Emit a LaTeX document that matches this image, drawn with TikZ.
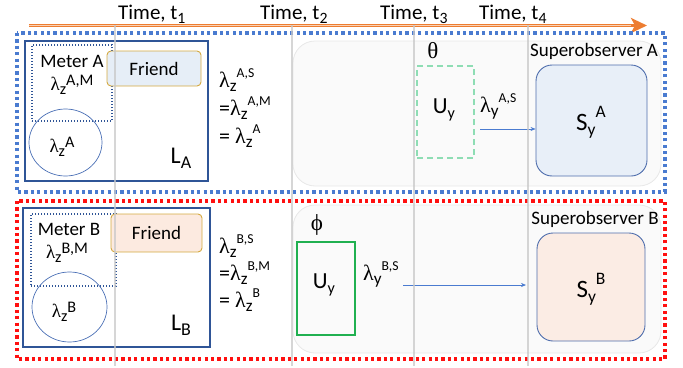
\documentclass[tikz,border=0pt]{standalone}
\usepackage{fontspec}
\usepackage{graphicx}
\setmainfont{Carlito}
\newfontfamily\grk{Liberation Serif}
\usetikzlibrary{arrows.meta,shapes.geometric}
\definecolor{dotblue}{HTML}{4A7BD0}
\definecolor{dotred}{HTML}{FF1010}
\definecolor{lbox}{HTML}{2F5597}
\definecolor{circ}{HTML}{4A6FB5}
\definecolor{frborder}{HTML}{D4A940}
\definecolor{frA}{HTML}{E6EEF7}
\definecolor{frB}{HTML}{FCEAE0}
\definecolor{sA}{HTML}{E8EFF8}
\definecolor{sB}{HTML}{FBECE4}
\definecolor{sborder}{HTML}{4F6EAD}
\definecolor{gdash}{HTML}{8EDDB4}
\definecolor{gsolid}{HTML}{20B050}
\definecolor{tarrow}{HTML}{ED7D31}
\definecolor{vgray}{HTML}{C8C8C8}
\newcommand\lamM[2]{{\grk λ}\raisebox{-0.25em}{\scalebox{0.85}{#1}}\raisebox{0.22em}{\scalebox{0.85}{#2}}}
\newcommand\lamE[2]{{\grk λ}\raisebox{-0.22em}{\scalebox{0.78}{#1}}\raisebox{0.42em}{\scalebox{0.62}{#2}}}
\newcommand\bigsub[3]{#1\raisebox{-0.22em}{\scalebox{0.7}{#2}}\raisebox{0.5em}{\scalebox{0.7}{#3}}}
\begin{document}
\begin{tikzpicture}[x=1pt,y=-1pt,
  txt/.style={inner sep=0pt,font=\fontsize{19}{22}\selectfont},
  timelbl/.style={inner sep=0pt,anchor=base west,font=\fontsize{21}{24}\selectfont},
  eqlbl/.style={inner sep=0pt,anchor=base west,font=\fontsize{22}{26}\selectfont},
  dotbox/.style={line width=3.2pt,dash pattern=on 3.2pt off 3.2pt},
  lboxstyle/.style={draw=lbox,line width=2.6pt},
  meterbox/.style={draw=lbox,line width=1.3pt,dash pattern=on 1.4pt off 1.6pt},
  circstyle/.style={draw=circ,line width=0.7pt},
  friendbox/.style={draw=frborder,line width=0.9pt,rounded corners=4pt},
  bgbox/.style={draw=black!9,fill=black!2,line width=0.8pt,rounded corners=22pt},
  sbox/.style={draw=sborder,line width=0.9pt,rounded corners=16pt},
  conn/.style={draw=dotblue,line width=0.6pt,-{Stealth[length=5pt,width=4pt]}},
  vline/.style={draw=vgray,line width=1.4pt,opacity=0.75}
]
\useasboundingbox (0,0) rectangle (683,367);

% background rounded panels
\path[bgbox] (293,41) rectangle (661,186);
\path[bgbox] (293,205) rectangle (661,353);

% time labels
\node[timelbl] (T1) at (118,19) {Time, t\raisebox{-0.2em}{\scalebox{0.75}{1}}};
\node[timelbl] (T2) at (260,19) {Time, t\raisebox{-0.2em}{\scalebox{0.75}{2}}};
\node[timelbl] (T3) at (380,19) {Time, t\raisebox{-0.2em}{\scalebox{0.75}{3}}};
\node[timelbl] (T4) at (479,19) {Time, t\raisebox{-0.2em}{\scalebox{0.75}{4}}};

% time arrow
\coordinate (ta0) at (29,25.5);
\coordinate (ta1) at (647,25.5);
\draw[tarrow,line width=3.4pt,-{Stealth[length=16pt,width=15pt,inset=4pt]}] (ta0) -- (ta1);
\draw[tarrow!35,line width=1.1pt,shorten >=16pt] (ta0) -- (ta1);

% ---------- A row ----------
\node[lboxstyle,minimum width=183pt,minimum height=140pt,inner sep=0pt] (LA) at (116.5,111) {};
\node[meterbox,minimum width=80pt,minimum height=76pt,inner sep=0pt] (MA) at (72,83) {};
\node[friendbox,fill=frA,minimum width=94pt,minimum height=35pt,inner sep=0pt] (FA) at (154,68.5) {};
\node[txt] (FAt) at (FA.center) {Friend};
\node[circstyle,ellipse,minimum width=73pt,minimum height=67pt,inner sep=0pt] (CA) at (65.5,142.5) {};
\node[txt,anchor=base] (MAt) at (72,67) {Meter A};
\node[txt,anchor=base] (MAl) at (72,90) {\lamM{z}{A,M}};
\node[txt,anchor=base] (CAl) at (62,152) {\lamM{z}{A}};
\node[inner sep=0pt,anchor=base,font=\fontsize{24}{28}\selectfont] (LAt) at (181,163) {L\raisebox{-0.22em}{\scalebox{0.75}{A}}};

\node[eqlbl] (EA1) at (219,87) {\lamE{z}{A,S}};
\node[eqlbl] (EA2) at (219,115) {=\lamE{z}{A,M}};
\node[eqlbl] (EA3) at (219,143) {= \lamE{z}{A}};

\node[inner sep=0pt,font=\fontsize{23}{26}\selectfont\grk] (thA) at (433,51) {θ};
\node[draw=gdash,line width=2pt,dash pattern=on 6pt off 4pt,minimum width=57pt,minimum height=92pt,inner sep=0pt] (UA) at (445.5,112) {};
\node[inner sep=0pt,anchor=base,font=\fontsize{23}{26}\selectfont] (UAt) at (444,113) {U\raisebox{-0.25em}{\scalebox{0.7}{y}}};
\node[eqlbl] (LyA) at (480,112) {\lamE{y}{A,S}};
\node[sbox,fill=sA,minimum width=111pt,minimum height=111pt,inner sep=0pt] (SA) at (591.5,120.5) {};
\node[inner sep=0pt,anchor=base,font=\fontsize{25}{28}\selectfont] (SAt) at (591,130) {\bigsub{S}{y}{A}};
\node[txt,anchor=base] (SOA) at (594,56) {Superobserver A};
\coordinate (arA) at (480,129);
\draw[conn] (arA) -- (arA -| SA.west);

% ---------- B row ----------
\node[lboxstyle,minimum width=187pt,minimum height=139pt,inner sep=0pt] (LB) at (116.5,277.5) {};
\node[meterbox,minimum width=85pt,minimum height=72pt,inner sep=0pt] (MB) at (73.5,250) {};
\node[friendbox,fill=frB,minimum width=91pt,minimum height=38pt,inner sep=0pt] (FB) at (156.5,233) {};
\node[txt] (FBt) at (FB.center) {Friend};
\node[circstyle,ellipse,minimum width=75pt,minimum height=70pt,inner sep=0pt] (CB) at (69.5,307) {};
\node[txt,anchor=base] (MBt) at (69,235) {Meter B};
\node[txt,anchor=base] (MBl) at (67,258) {\lamM{z}{B,M}};
\node[txt,anchor=base] (CBl) at (64,317) {\lamM{z}{B}};
\node[inner sep=0pt,anchor=base,font=\fontsize{24}{28}\selectfont] (LBt) at (181,330) {L\raisebox{-0.22em}{\scalebox{0.75}{B}}};

\node[eqlbl] (EB1) at (219,253) {\lamE{z}{B,S}};
\node[eqlbl] (EB2) at (219,280) {=\lamE{z}{B,M}};
\node[eqlbl] (EB3) at (219,307) {= \lamE{z}{B}};

\node[inner sep=0pt,font=\fontsize{23}{26}\selectfont\grk] (phB) at (317,225) {ϕ};
\node[draw=gsolid,line width=2pt,minimum width=58pt,minimum height=93pt,inner sep=0pt] (UB) at (326,288.5) {};
\node[inner sep=0pt,anchor=base,font=\fontsize{23}{26}\selectfont] (UBt) at (324,288) {U\raisebox{-0.25em}{\scalebox{0.7}{y}}};
\node[eqlbl] (LyB) at (363,280) {\lamE{y}{B,S}};
\node[sbox,fill=sB,minimum width=108pt,minimum height=108pt,inner sep=0pt] (SB) at (591,287) {};
\node[inner sep=0pt,anchor=base,font=\fontsize{25}{28}\selectfont] (SBt) at (591,297) {\bigsub{S}{y}{B}};
\node[txt,anchor=base] (SOB) at (595,224) {Superobserver B};
\coordinate (arB0) at (403,285);
\coordinate (arB1) at (526,285);
\draw[conn] (arB0) -- (arB1);

% dotted frames
\draw[dotblue,dotbox] (17,33) rectangle (665,192);
\draw[dotred,dotbox] (17,201) rectangle (665,359);

% time markers
\coordinate (v1t) at (115,25); \coordinate (v1b) at (115,366);
\coordinate (v2t) at (292,25); \coordinate (v2b) at (292,366);
\coordinate (v3t) at (414,25); \coordinate (v3b) at (414,366);
\coordinate (v4t) at (528,25); \coordinate (v4b) at (528,366);
\draw[vline] (v1t) -- (v1b);
\draw[vline] (v2t) -- (v2b);
\draw[vline] (v3t) -- (v3b);
\draw[vline] (v4t) -- (v4b);
\end{tikzpicture}
\end{document}
